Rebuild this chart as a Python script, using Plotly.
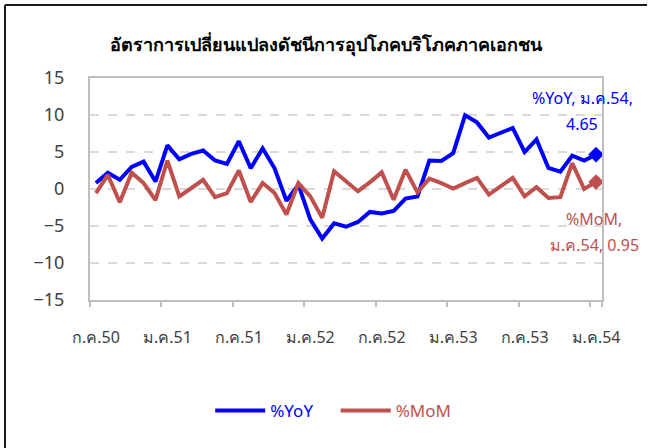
import plotly.graph_objects as go

months = ["ก.ค.50", "ส.ค.50", "ก.ย.50", "ต.ค.50", "พ.ย.50", "ธ.ค.50",
          "ม.ค.51", "ก.พ.51", "มี.ค.51", "เม.ย.51", "พ.ค.51", "มิ.ย.51",
          "ก.ค.51", "ส.ค.51", "ก.ย.51", "ต.ค.51", "พ.ย.51", "ธ.ค.51",
          "ม.ค.52", "ก.พ.52", "มี.ค.52", "เม.ย.52", "พ.ค.52", "มิ.ย.52",
          "ก.ค.52", "ส.ค.52", "ก.ย.52", "ต.ค.52", "พ.ย.52", "ธ.ค.52",
          "ม.ค.53", "ก.พ.53", "มี.ค.53", "เม.ย.53", "พ.ค.53", "มิ.ย.53",
          "ก.ค.53", "ส.ค.53", "ก.ย.53", "ต.ค.53", "พ.ย.53", "ธ.ค.53",
          "ม.ค.54"]

yoy = [0.8, 2.2, 1.25, 3.0, 3.7, 1.0, 5.9, 4.0, 4.75, 5.2, 3.85, 3.4, 6.45,
       2.8, 5.5, 2.8, -1.6, 0.6, -4.1, -6.7, -4.65, -5.1, -4.45, -3.1, -3.3,
       -2.95, -1.3, -1.0, 3.85, 3.8, 4.85, 9.95, 9.0, 6.95, 7.6, 8.25, 5.0,
       6.7, 2.85, 2.35, 4.5, 3.85, 4.65]

mom = [-0.55, 1.9, -1.8, 2.2, 0.8, -1.5, 3.85, -1.0, 0.1, 1.25, -1.1, -0.55,
       2.5, -1.75, 0.8, -0.55, -3.45, 0.8, -1.0, -3.9, 2.4, 1.0, -0.3, 0.9,
       2.25, -1.45, 2.6, -0.45, 1.4, 0.8, 0.05, 0.8, 1.5, -0.75, 0.35, 1.5,
       -1.0, 0.25, -1.2, -1.1, 3.5, 0.0, 0.95]

tick_labels = months[::6]
y_ticks = [-15, -10, -5, 0, 5, 10, 15]

title = "อัตราการเปลี่ยนแปลงดัชนีการอุปโภคบริโภคภาคเอกชน"
BLUE = "#0000FF"
RED = "#C0504D"
FONT = "Tahoma, 'Noto Sans', 'DejaVu Sans', sans-serif"

fig = go.Figure()
fig.add_trace(go.Scatter(
    x=months, y=yoy, mode="lines",
    line=dict(color=BLUE, width=4),
    name=f"<span style='color:{BLUE}'>%YoY</span>    "))
fig.add_trace(go.Scatter(
    x=months, y=mom, mode="lines",
    line=dict(color=RED, width=4),
    name=f"<span style='color:{RED}'>%MoM</span>"))
# last-point diamonds
fig.add_trace(go.Scatter(
    x=[months[-1]], y=[yoy[-1]], mode="markers", showlegend=False,
    marker=dict(symbol="diamond", size=12, color=BLUE)))
fig.add_trace(go.Scatter(
    x=[months[-1]], y=[mom[-1]], mode="markers", showlegend=False,
    marker=dict(symbol="diamond", size=12, color=RED)))

fig.update_layout(
    width=648, height=448,
    margin=dict(l=90, r=46, t=78, b=148, autoexpand=False),
    paper_bgcolor="white", plot_bgcolor="white",
    font=dict(family=FONT, size=15, color="#404040"),
    title=dict(text=f"<b>{title}</b>", x=0.503, xanchor="center",
               y=1 - 45 / 448, yanchor="middle", xref="container",
               font=dict(size=18, color="#000000")),
    showlegend=True,
    legend=dict(orientation="h", x=0.475, xanchor="center", y=-0.5,
                yanchor="middle", font=dict(size=17), itemwidth=50,
                bgcolor="rgba(0,0,0,0)"),
    hovermode=False,
)

fig.update_xaxes(
    type="category", range=[-0.5, len(months) - 0.5],
    tickmode="array", tickvals=tick_labels, ticktext=tick_labels,
    tickson="boundaries", ticks="outside", ticklen=5, tickwidth=1.5,
    tickcolor="#BFBFBF", showgrid=False, tickangle=0, automargin=False,
    showline=True, mirror=True, linecolor="#BFBFBF", linewidth=2,
    tickfont=dict(size=16, color="#404040"), ticklabelstandoff=22,
)
fig.update_yaxes(
    range=[-15, 15], tickvals=y_ticks, showgrid=True, automargin=False,
    gridcolor="#D9D9D9", griddash="dash", gridwidth=1.5, zeroline=False,
    showline=True, mirror=True, linecolor="#BFBFBF", linewidth=2,
    tickfont=dict(size=18, color="#404040"), ticklabelstandoff=20,
)

# annotations for last values
fig.add_annotation(x=(582 - 90) / 512, y=(300 - 98) / 222, xref="paper",
                   yref="paper", text="%YoY, ม.ค.54,", showarrow=False,
                   font=dict(size=16, color=BLUE), xanchor="center",
                   yanchor="middle")
fig.add_annotation(x=(582 - 90) / 512, y=(300 - 124) / 222, xref="paper",
                   yref="paper", text=f"{yoy[-1]:.2f}", showarrow=False,
                   font=dict(size=16, color=BLUE), xanchor="center",
                   yanchor="middle")
fig.add_annotation(x=(594 - 90) / 512, y=(300 - 219) / 222, xref="paper",
                   yref="paper", text="%MoM,", showarrow=False,
                   font=dict(size=16, color=RED), xanchor="center",
                   yanchor="middle")
fig.add_annotation(x=(594 - 90) / 512, y=(300 - 245) / 222, xref="paper",
                   yref="paper", text=f"ม.ค.54, {mom[-1]:.2f}",
                   showarrow=False, font=dict(size=16, color=RED),
                   xanchor="center", yanchor="middle")

# outer chart frame (left and top edges visible)
fx = (5 - 90) / 512
fy = 1 + (78 - 5) / 222
fig.add_shape(type="line", xref="paper", yref="paper", x0=fx, x1=fx,
              y0=-1.0, y1=fy, line=dict(color="#1a1a1a", width=2))
fig.add_shape(type="line", xref="paper", yref="paper", x0=fx,
              x1=(647 - 90) / 512, y0=fy, y1=fy,
              line=dict(color="#1a1a1a", width=2))

fig.write_html(
    "out.html",
    config={"displayModeBar": False},
    post_script="document.body.style.margin='0';"
                "document.body.style.overflow='hidden';",
)
